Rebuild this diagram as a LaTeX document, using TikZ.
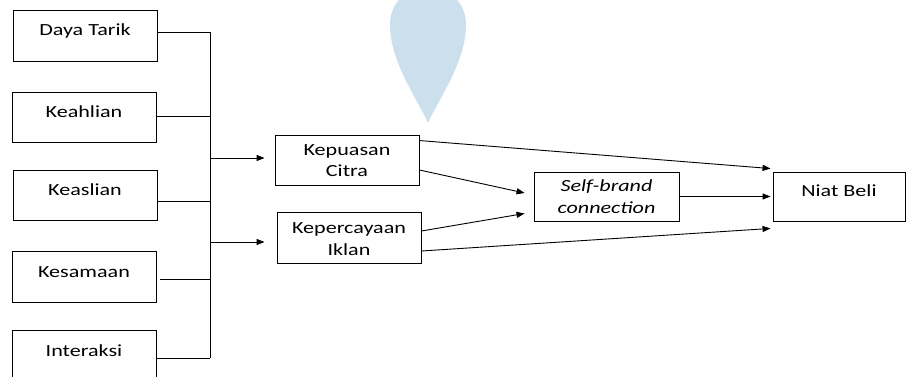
\documentclass[tikz,border=0pt]{standalone}
\usepackage{fontspec}
\setmainfont{Carlito}[FakeStretch=1.3]
\usetikzlibrary{arrows.meta,calc}
\definecolor{wm}{RGB}{203,223,237}
\begin{document}
\begin{tikzpicture}[x=1pt,y=-1pt,
  box/.style={draw, line width=0.9pt, inner sep=0pt},
  lbl/.style={anchor=base, inner sep=0pt, font=\fontsize{17}{21.5}\selectfont},
  conn/.style={line width=0.9pt},
  arr/.style={conn, -{Triangle[length=8pt,width=6pt]}}]
\useasboundingbox (0,0) rectangle (906,377);
% watermark
\fill[wm] (428,123) .. controls (418,100) and (390,62) .. (390,25)
  .. controls (390,-25) and (466,-25) .. (466,25)
  .. controls (466,62) and (438,100) .. (428,123) -- cycle;
% left boxes
\node[box, minimum width=144pt, minimum height=51pt] (dt) at (85,35.5) {};
\node[box, minimum width=144pt, minimum height=50pt] (ke) at (84,117) {};
\node[box, minimum width=144pt, minimum height=50pt] (ks) at (85,195) {};
\node[box, minimum width=144pt, minimum height=51pt] (km) at (84,276.5) {};
\node[box, minimum width=144pt, minimum height=51pt] (in) at (84,355.5) {};
\node[lbl] (dtl) at ($(dt.center)+(0,0.5)$) {Daya Tarik};
\node[lbl] (kel) at ($(ke.center)+(0,0.5)$) {Keahlian};
\node[lbl] (ksl) at ($(ks.center)+(0,0.5)$) {Keaslian};
\node[lbl] (kml) at ($(km.center)+(0,0.5)$) {Kesamaan};
\node[lbl] (inl) at ($(in.center)+(0,0.5)$) {Interaksi};
% middle boxes
\node[box, minimum width=144pt, minimum height=50pt] (kc) at (347,160) {};
\node[box, minimum width=144pt, minimum height=51pt] (kp) at (349,237.5) {};
\node[lbl] (kc1) at ($(kc.center)+(0,-4.5)$) {Kepuasan};
\node[lbl] (kc2) at ($(kc.center)+(0,17)$) {Citra};
\node[lbl] (kp1) at ($(kp.center)+(0,-4.3)$) {Kepercayaan};
\node[lbl] (kp2) at ($(kp.center)+(0,17.8)$) {Iklan};
% right boxes
\node[box, minimum width=145pt, minimum height=49pt] (sbc) at (606.5,196.5) {};
\node[box, minimum width=132pt, minimum height=49pt] (nb) at (839,196.5) {};
\node[lbl] (sb1) at ($(sbc.center)+(0,-4.8)$) {\itshape Self-brand};
\node[lbl] (sb2) at ($(sbc.center)+(0,16.8)$) {\itshape connection};
\node[lbl] (nbl) at ($(nb.center)+(0,0.5)$) {Niat Beli};
% bus
\coordinate (bt) at (210,32);
\coordinate (b2) at (210,116);
\coordinate (b3) at (210,201);
\coordinate (b4) at (210,279);
\coordinate (bb) at (210,358);
\coordinate (ba) at (210,158);
\coordinate (bc) at (210,242);
\draw[conn] ($(dt.east)+(0,-3.5)$) -- (bt);
\draw[conn] ($(ke.east)+(0,-1)$) -- (b2);
\draw[conn] ($(ks.east)+(0,6)$) -- (b3);
\draw[conn] ($(km.east)+(4,2.5)$) -- (b4);
\draw[conn] ($(in.east)+(0,2.5)$) -- (bb);
\draw[conn] (bt) -- (bb);
\draw[arr] (ba) -- ($(kc.west)+(-10,-2)$);
\draw[arr] (bc) -- ($(kp.west)+(-12,4.5)$);
% paths to right
\draw[arr] ($(kc.north east)+(0,6)$) -- ($(nb.north west)+(-2,-3)$);
\draw[arr] ($(kc.east)+(0,10)$) -- ($(sbc.west)+(-9,-3.5)$);
\draw[arr] ($(kp.east)+(0,-6.5)$) -- ($(sbc.west)+(-9,17)$);
\draw[arr] ($(kp.east)+(0,13.5)$) -- ($(nb.south west)+(-2,7)$);
\draw[arr] (sbc.east) -- ($(nb.west)+(-2,0)$);
\end{tikzpicture}
\end{document}
